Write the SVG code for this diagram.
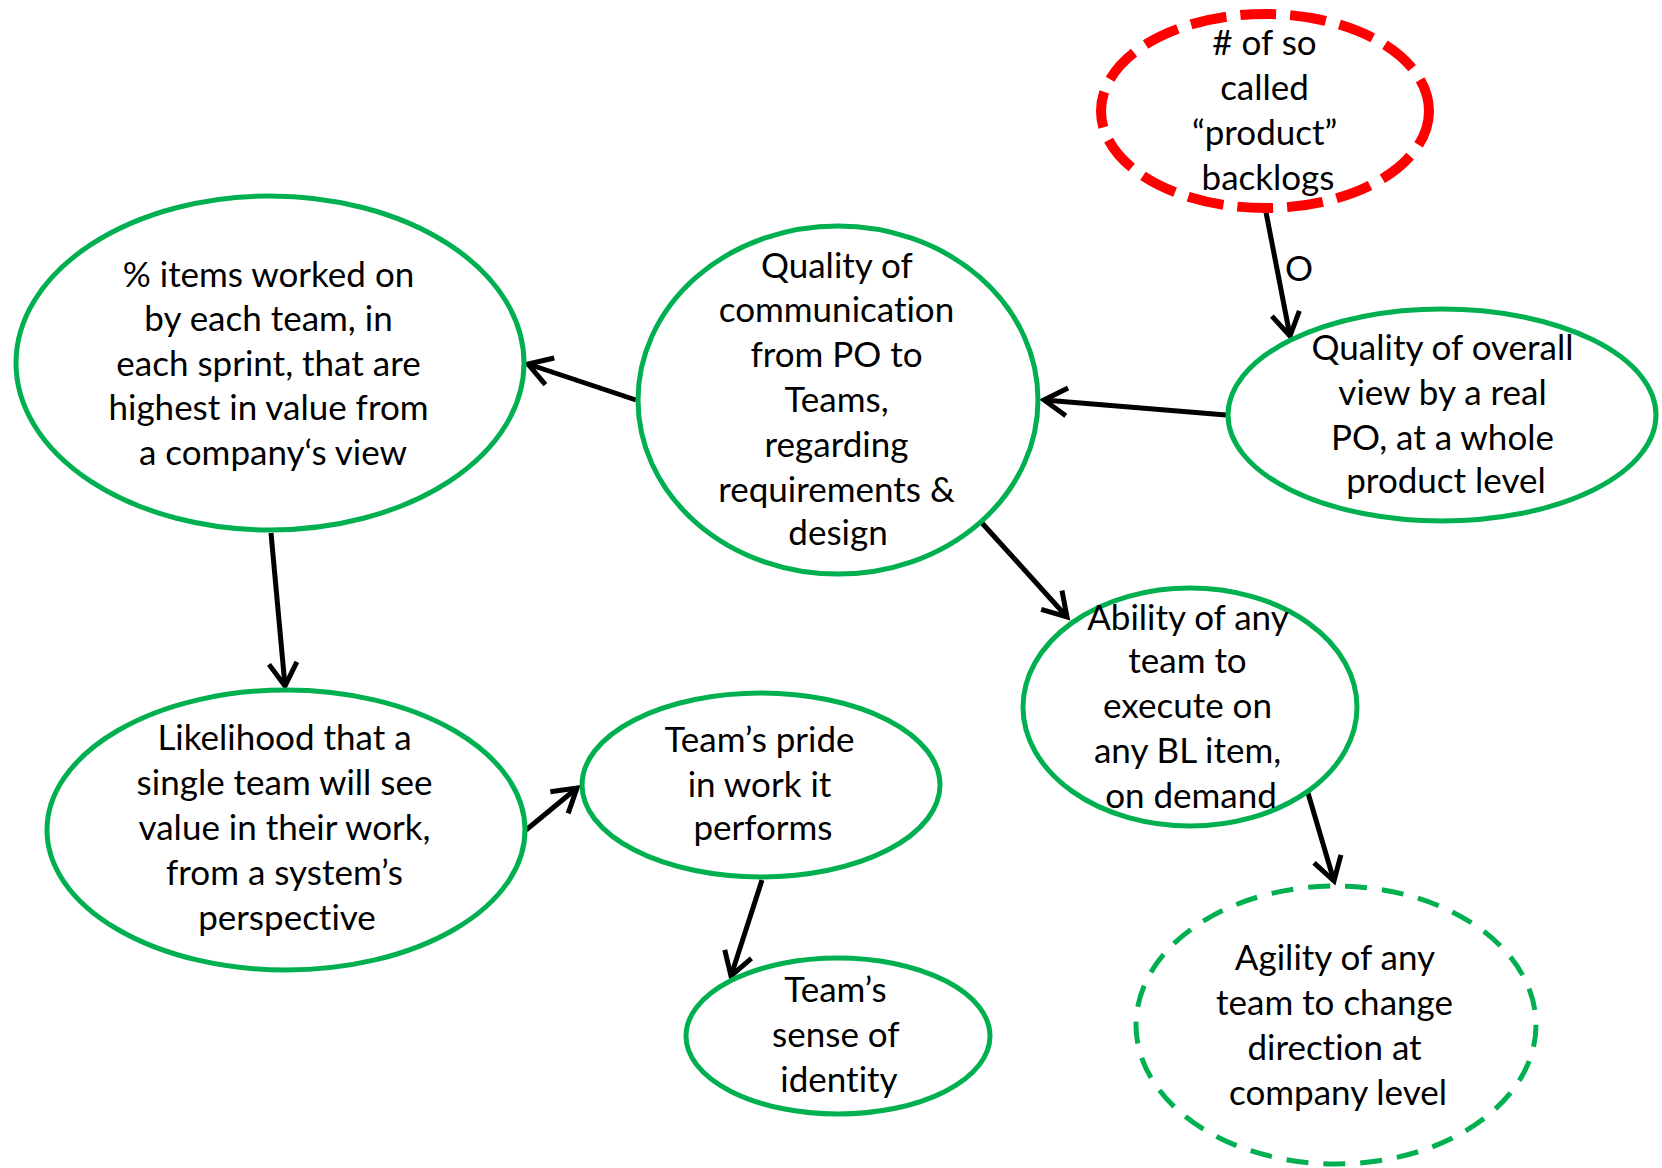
<svg xmlns="http://www.w3.org/2000/svg" width="1662" height="1168" viewBox="0 0 1662 1168">
  <style>
    .node { fill: #ffffff; stroke: #00b050; stroke-width: 5; }
    .dashed { stroke-dasharray: 22 15; }
    .red { stroke: #ff0000; stroke-width: 10; stroke-dasharray: 36 14; }
    .lbl { font-family: Lato, "Liberation Sans", sans-serif; font-size: 35px; fill: #000000; text-anchor: middle; font-variant-ligatures: none; }
    .edge { stroke: #000000; stroke-width: 5; fill: none; marker-end: url(#head); }
  </style>
  <defs>
    <marker id="head" markerUnits="userSpaceOnUse" viewBox="-30 -20 36 40" refX="0" refY="0" markerWidth="36" markerHeight="40" orient="auto">
      <path d="M-23,-14 L0,0 L-23,14" fill="none" stroke="#000000" stroke-width="5" stroke-linejoin="miter"/>
    </marker>
  </defs>
  <rect width="1662" height="1168" fill="#ffffff"/>

  <g id="connectors">
    <line class="edge" x1="1265" y1="207" x2="1290" y2="336"/>
    <line class="edge" x1="1226" y1="415" x2="1044" y2="400"/>
    <line class="edge" x1="636" y1="400" x2="528" y2="364"/>
    <line class="edge" x1="982" y1="523" x2="1067" y2="617"/>
    <line class="edge" x1="1308" y1="793" x2="1334" y2="881"/>
    <line class="edge" x1="271" y1="533" x2="285" y2="686"/>
    <line class="edge" x1="526" y1="830" x2="577" y2="788"/>
    <line class="edge" x1="762" y1="880" x2="731" y2="976"/>
    <text class="lbl" x="1299" y="281">O</text>
  </g>

  <g id="backlogs">
    <ellipse class="node red" cx="1265" cy="111" rx="164" ry="97"/>
    <text class="lbl">
      <tspan x="1269" y="55"># of so</tspan>
      <tspan x="1269" y="100">called</tspan>
      <tspan x="1269" y="145">“product”</tspan>
      <tspan x="1268" y="190">backlogs</tspan>
    </text>
  </g>

  <g id="items-value">
    <ellipse class="node" cx="270" cy="363" rx="254" ry="167"/>
    <text class="lbl">
      <tspan x="273" y="287">% items worked on</tspan>
      <tspan x="273" y="331">by each team, in</tspan>
      <tspan x="273" y="376">each sprint, that are</tspan>
      <tspan x="273" y="420">highest in value from</tspan>
      <tspan x="273" y="465">a company‘s view</tspan>
    </text>
  </g>

  <g id="communication">
    <ellipse class="node" cx="838" cy="400" rx="200" ry="174"/>
    <text class="lbl">
      <tspan x="841" y="278">Quality of</tspan>
      <tspan x="841" y="322">communication</tspan>
      <tspan x="841" y="367">from PO to</tspan>
      <tspan x="841" y="412">Teams,</tspan>
      <tspan x="841" y="457">regarding</tspan>
      <tspan x="841" y="502">requirements &amp;</tspan>
      <tspan x="838" y="545">design</tspan>
    </text>
  </g>

  <g id="overall-view">
    <ellipse class="node" cx="1442" cy="415" rx="214" ry="106"/>
    <text class="lbl">
      <tspan x="1447" y="360">Quality of overall</tspan>
      <tspan x="1447" y="405">view by a real</tspan>
      <tspan x="1447" y="450">PO, at a whole</tspan>
      <tspan x="1446" y="493">product level</tspan>
    </text>
  </g>

  <g id="ability">
    <ellipse class="node" cx="1190" cy="707" rx="167" ry="119"/>
    <text class="lbl">
      <tspan x="1192" y="630">Ability of any</tspan>
      <tspan x="1192" y="673">team to</tspan>
      <tspan x="1192" y="718">execute on</tspan>
      <tspan x="1192" y="763">any BL item,</tspan>
      <tspan x="1191" y="808">on demand</tspan>
    </text>
  </g>

  <g id="agility">
    <ellipse class="node dashed" cx="1336" cy="1025" rx="200" ry="139"/>
    <text class="lbl">
      <tspan x="1339" y="970">Agility of any</tspan>
      <tspan x="1339" y="1015">team to change</tspan>
      <tspan x="1339" y="1060">direction at</tspan>
      <tspan x="1338" y="1105">company level</tspan>
    </text>
  </g>

  <g id="likelihood">
    <ellipse class="node" cx="286" cy="830" rx="239" ry="140"/>
    <text class="lbl">
      <tspan x="289" y="750">Likelihood that a</tspan>
      <tspan x="289" y="795">single team will see</tspan>
      <tspan x="289" y="840">value in their work,</tspan>
      <tspan x="289" y="885">from a system’s</tspan>
      <tspan x="287" y="930">perspective</tspan>
    </text>
  </g>

  <g id="pride">
    <ellipse class="node" cx="761" cy="785" rx="179" ry="92"/>
    <text class="lbl">
      <tspan x="764" y="752">Team’s pride</tspan>
      <tspan x="764" y="797">in work it</tspan>
      <tspan x="763" y="840">performs</tspan>
    </text>
  </g>

  <g id="identity">
    <ellipse class="node" cx="838" cy="1036" rx="152" ry="78"/>
    <text class="lbl">
      <tspan x="840" y="1002">Team’s</tspan>
      <tspan x="840" y="1047">sense of</tspan>
      <tspan x="839" y="1092">identity</tspan>
    </text>
  </g>
</svg>
